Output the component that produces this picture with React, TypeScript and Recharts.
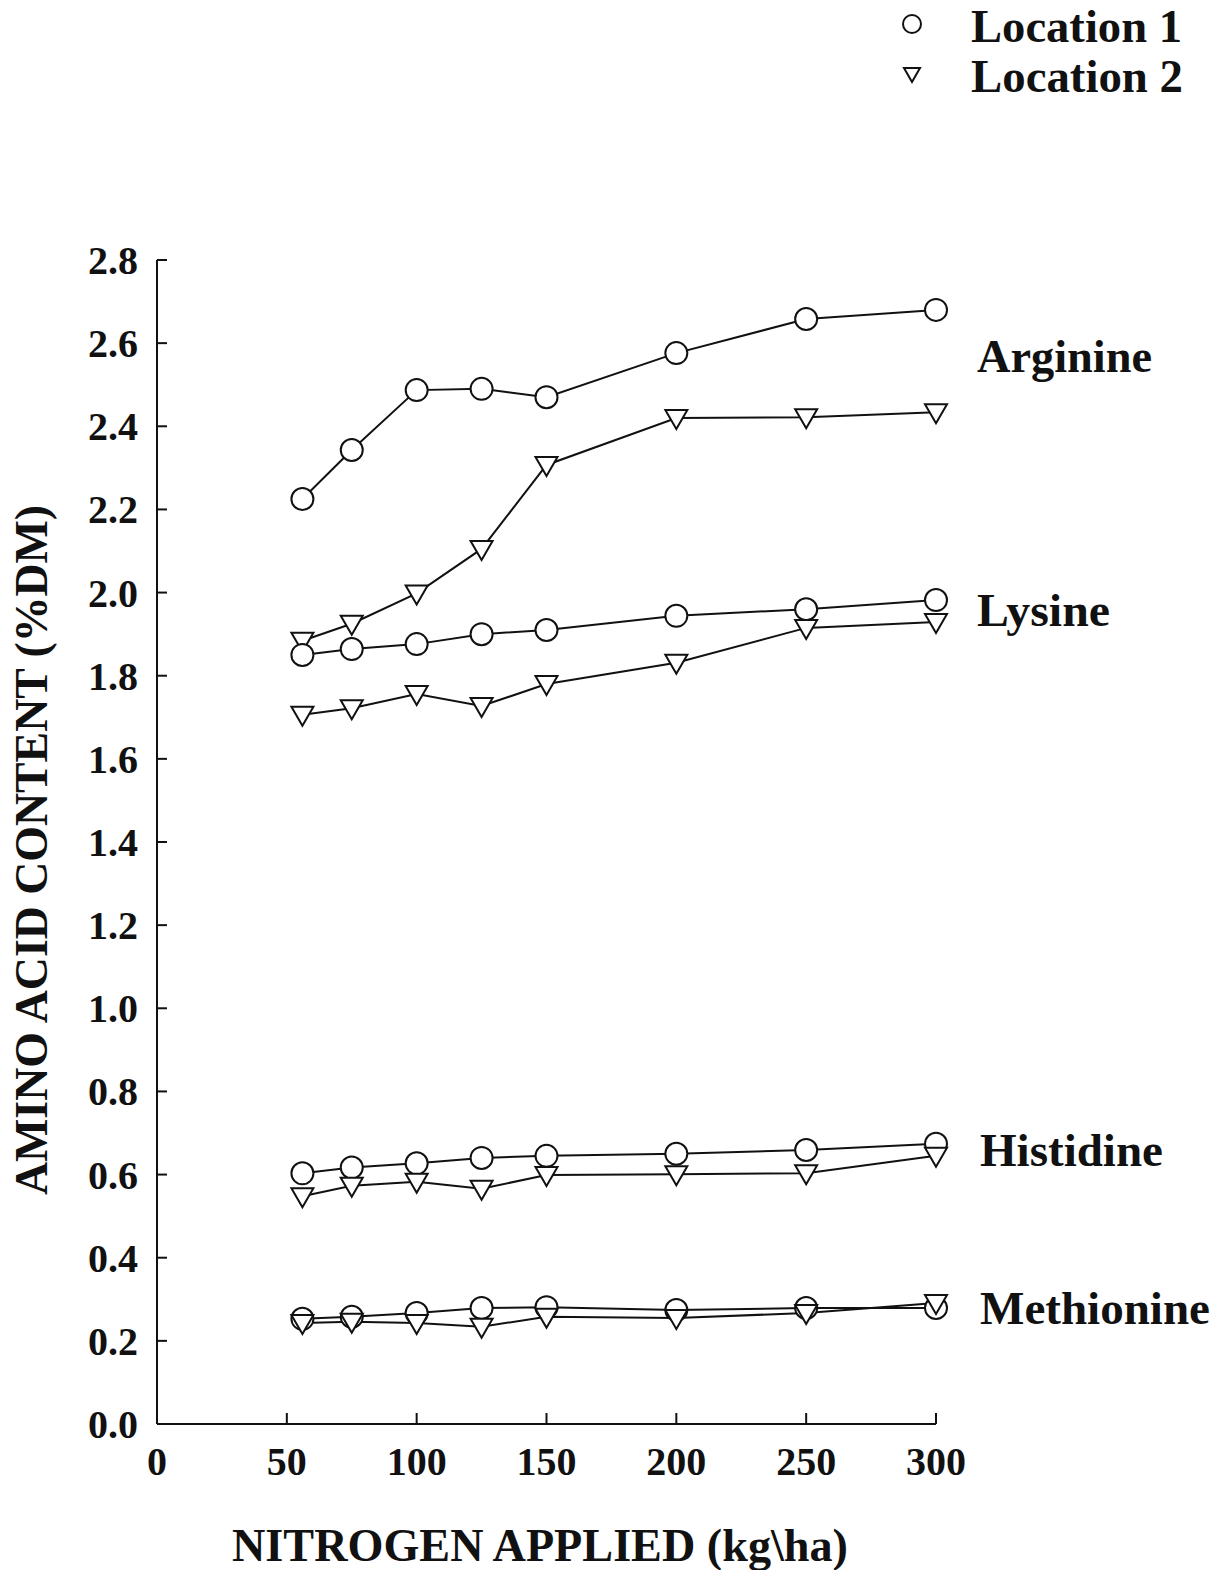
import { LineChart, Line, XAxis, YAxis } from 'recharts';

const nitrogen = [56, 75, 100, 125, 150, 200, 250, 300];

const arginine1 = [2.225, 2.343, 2.487, 2.49, 2.47, 2.576, 2.658, 2.68];
const arginine2 = [1.884, 1.925, 1.998, 2.105, 2.307, 2.42, 2.422, 2.434];
const lysine1 = [1.85, 1.864, 1.876, 1.9, 1.91, 1.944, 1.96, 1.982];
const lysine2 = [1.706, 1.722, 1.756, 1.727, 1.78, 1.831, 1.915, 1.929];
const histidine1 = [0.603, 0.617, 0.627, 0.64, 0.645, 0.65, 0.659, 0.674];
const histidine2 = [0.548, 0.573, 0.583, 0.566, 0.599, 0.601, 0.603, 0.645];
const methionine1 = [0.253, 0.258, 0.267, 0.279, 0.281, 0.274, 0.279, 0.279];
const methionine2 = [0.243, 0.246, 0.243, 0.234, 0.258, 0.255, 0.267, 0.291];

const xTicks = [0, 50, 100, 150, 200, 250, 300];
const yTicks = [0, 0.2, 0.4, 0.6, 0.8, 1.0, 1.2, 1.4, 1.6, 1.8, 2.0, 2.2, 2.4, 2.6, 2.8];

const data = nitrogen.map((n, i) => ({
    n,
    arg1: arginine1[i],
    arg2: arginine2[i],
    lys1: lysine1[i],
    lys2: lysine2[i],
    his1: histidine1[i],
    his2: histidine2[i],
    met1: methionine1[i],
    met2: methionine2[i],
}));

const FONT = '"Liberation Serif", "Times New Roman", serif';
const INK = '#111';

const CircleDot = (props: any) => {
    const { cx, cy, index } = props;
    return <circle key={`c${index}`} cx={cx} cy={cy} r={11} fill="#fff" stroke={INK} strokeWidth={2} />;
};

const TriangleDot = (props: any) => {
    const { cx, cy, index } = props;
    const pts = `${cx - 11},${cy - 8} ${cx + 11},${cy - 8} ${cx},${cy + 11}`;
    return <polygon key={`t${index}`} points={pts} fill="#fff" stroke={INK} strokeWidth={2} strokeLinejoin="miter" />;
};

const YTick = ({ x, y, payload }: any) => (
    <g>
        <line x1={x} y1={y} x2={x + 10} y2={y} stroke={INK} strokeWidth={2} />
        <text x={x - 19} y={y} dy="0.35em" textAnchor="end" fontFamily={FONT} fontWeight="bold" fontSize={40} fill={INK}>
            {payload.value.toFixed(1)}
        </text>
    </g>
);

const XTick = ({ x, y, payload }: any) => (
    <g>
        {payload.value !== 0 && <line x1={x} y1={y} x2={x} y2={y - 11} stroke={INK} strokeWidth={2} />}
        <text x={x} y={y + 51} textAnchor="middle" fontFamily={FONT} fontWeight="bold" fontSize={40} fill={INK}>
            {payload.value}
        </text>
    </g>
);

const seriesKeys = [
    { key: 'arg1', loc: 1 },
    { key: 'arg2', loc: 2 },
    { key: 'lys1', loc: 1 },
    { key: 'lys2', loc: 2 },
    { key: 'his1', loc: 1 },
    { key: 'his2', loc: 2 },
    { key: 'met1', loc: 1 },
    { key: 'met2', loc: 2 },
];

const names = [
    { text: 'Arginine', x: 977, y: 372, w: 175 },
    { text: 'Lysine', x: 977, y: 626, w: 133 },
    { text: 'Histidine', x: 980, y: 1166, w: 183 },
    { text: 'Methionine', x: 980, y: 1324, w: 230 },
];

export default function App() {
    return (
        <div style={{ position: 'absolute', left: 0, top: 0, width: 1227, height: 1570, background: '#fff' }}>
            <LineChart width={1227} height={1570} data={data} margin={{ top: 260, right: 291, bottom: 116, left: 77 }}>
                <XAxis
                    dataKey="n"
                    type="number"
                    domain={[0, 300]}
                    ticks={xTicks}
                    tickSize={0}
                    tickMargin={0}
                    height={30}
                    axisLine={{ stroke: INK, strokeWidth: 2 }}
                    tick={<XTick />}
                    tickLine={false}
                />
                <YAxis
                    type="number"
                    domain={[0, 2.8]}
                    ticks={yTicks}
                    tickSize={0}
                    tickMargin={0}
                    width={80}
                    axisLine={{ stroke: INK, strokeWidth: 2 }}
                    tick={<YTick />}
                    tickLine={false}
                />
                {seriesKeys.map((s) => (
                    <Line
                        key={s.key}
                        dataKey={s.key}
                        type="linear"
                        stroke={INK}
                        strokeWidth={2}
                        dot={s.loc === 1 ? CircleDot : TriangleDot}
                        activeDot={false}
                        isAnimationActive={false}
                    />
                ))}
            </LineChart>
            <svg width={1227} height={1570} style={{ position: 'absolute', left: 0, top: 0, pointerEvents: 'none' }}>
                <g fontFamily={FONT} fontWeight="bold" fill={INK}>
                    <circle cx={912} cy={24} r={9} fill="#fff" stroke={INK} strokeWidth={2} />
                    <polygon points="904,68 920,68 912,82" fill="#fff" stroke={INK} strokeWidth={2} />
                    <text x={971} y={42} fontSize={46} textLength={211} lengthAdjust="spacingAndGlyphs">Location 1</text>
                    <text x={971} y={92} fontSize={46} textLength={212} lengthAdjust="spacingAndGlyphs">Location 2</text>
                    {names.map((n) => (
                        <text key={n.text} x={n.x} y={n.y} fontSize={46} textLength={n.w} lengthAdjust="spacingAndGlyphs">
                            {n.text}
                        </text>
                    ))}
                    <text x={232} y={1561} fontSize={46} textLength={616} lengthAdjust="spacingAndGlyphs">
                        NITROGEN APPLIED (kg\ha)
                    </text>
                    <text x={47} y={1195} fontSize={46} textLength={690} lengthAdjust="spacingAndGlyphs" transform="rotate(-90 47 1195)">
                        AMINO ACID CONTENT (%DM)
                    </text>
                </g>
            </svg>
        </div>
    );
}
